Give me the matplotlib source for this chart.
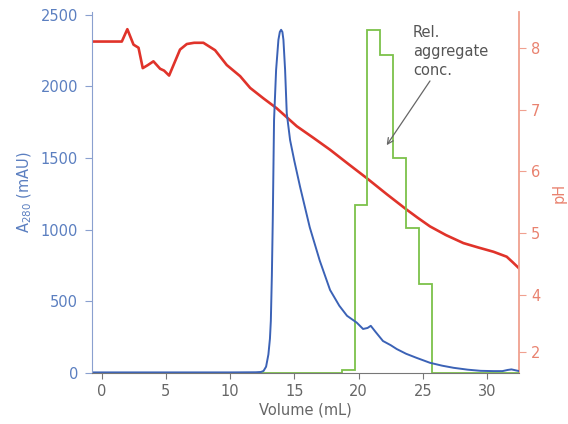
import matplotlib
matplotlib.use("Agg")
import matplotlib.pyplot as plt

# UV trace (A280, mAU) vs elution volume (mL)
vol_uv = [-0.75, 5, 10, 12.0, 12.4, 12.6, 12.8, 12.98, 13.1, 13.17, 13.25, 13.32, 13.42, 13.58,
          13.76, 13.87, 13.97, 14.07, 14.15, 14.28, 14.41, 14.67, 15.0, 15.45, 16.2, 16.98,
          17.78, 18.5, 19.1, 19.86, 20.35, 20.7, 20.95, 21.3, 21.9, 22.5, 22.97, 23.7, 24.5,
          25.56, 26.5, 27.4, 28.5, 29.5, 30.5, 31.2, 31.6, 31.9, 32.5]
a280 = [5, 5, 5, 6, 8, 15, 45, 130, 240, 364, 680, 1064, 1765, 2115,
        2325, 2380, 2395, 2380, 2325, 2115, 1812, 1625, 1480, 1298, 1017, 784,
        580, 470, 400, 352, 308, 315, 330, 290, 224, 195, 168, 135, 107,
        72, 52, 37, 24, 16, 14, 14, 22, 26, 14]

# pH trace
vol_ph = [-0.75, 1.57, 2.0, 2.48, 2.87, 3.2, 3.6, 4.03, 4.55, 4.86, 5.25, 6.1, 6.63, 7.2,
          7.92, 8.83, 9.74, 10.78, 11.56, 12.6, 13.63, 15.19, 16.5, 17.78, 19.2, 20.64,
          22.2, 23.75, 24.6, 25.56, 26.8, 28.16, 29.3, 30.5, 31.53, 32.0, 32.5]
ph = [8.1, 8.1, 8.3, 8.05, 8.0, 7.67, 7.72, 7.78, 7.66, 7.63, 7.55, 7.97, 8.06, 8.08,
      8.08, 7.96, 7.72, 7.54, 7.35, 7.18, 7.02, 6.73, 6.54, 6.35, 6.12, 5.89,
      5.63, 5.38, 5.25, 5.11, 4.97, 4.84, 4.77, 4.70, 4.62, 4.53, 4.43]

# relative aggregate concentration, per fraction
frac_edges = [-0.75, 18.69, 19.73, 20.69, 21.67, 22.7, 23.67, 24.73, 25.7, 32.5]
aggregate = [0, 20, 1170, 2395, 2220, 1500, 1015, 623, 0]

ph_ticks = [3.08, 4, 5, 6, 7, 8]
ph_ticklabels = ["2", "4", "5", "6", "7", "8"]

blue = "#3b62b6"
red = "#e0332a"
green = "#7cc14a"
blue_txt = "#5b7fc0"
red_txt = "#e9826f"

plt.rcParams["font.family"] = "DejaVu Sans"
plt.rcParams["font.size"] = 10.5

fig = plt.figure(figsize=(5.68, 4.24), dpi=100)
ax = fig.add_axes([0.162, 0.12, 0.752, 0.852])
ax2 = ax.twinx()

ax2.plot(vol_ph, ph, color=red, lw=1.9)
ax.stairs(aggregate, frac_edges, color=green, lw=1.3)
ax.plot(vol_uv, a280, color=blue, lw=1.4)

ax.set_zorder(ax2.get_zorder() + 1)
ax.patch.set_visible(False)

ax.set_xlim(-0.75, 32.5)
ax.set_ylim(0, 2520)
ax2.set_ylim(2.737, 8.58)

ax.set_xticks([0, 5, 10, 15, 20, 25, 30])
ax.set_yticks([0, 500, 1000, 1500, 2000, 2500])
ax2.set_yticks(ph_ticks)
ax2.set_yticklabels(ph_ticklabels)

for a in (ax, ax2):
    a.spines["top"].set_visible(False)
ax.spines["left"].set_color("#8aa0cf")
ax.spines["bottom"].set_color("#777777")
ax.spines["right"].set_visible(False)
ax2.spines["left"].set_visible(False)
ax2.spines["bottom"].set_visible(False)
ax2.spines["right"].set_color("#f0a08f")
ax2.spines["right"].set_linewidth(1.3)

ax.tick_params(axis="y", colors="#8aa0cf", labelcolor=blue_txt, length=5, pad=5)
ax.tick_params(axis="x", colors="#777777", labelcolor="#666666", length=4)
ax2.tick_params(axis="y", colors="#f0a08f", labelcolor=red_txt, length=5)

ax.set_xlabel("Volume (mL)", color="#666666", labelpad=3)
ax.set_ylabel("A$_{280}$ (mAU)", color=blue_txt, labelpad=5)
ax2.set_ylabel("pH", color=red_txt, labelpad=8)

ax.annotate("Rel.\naggregate\nconc.", xy=(22.19, 1590), xytext=(24.24, 2430),
            ha="left", va="top", color="#555555", linespacing=1.35,
            arrowprops=dict(arrowstyle="->", color="#666666", lw=0.9,
                            shrinkA=0, shrinkB=0, relpos=(0.25, 0)))

fig.savefig("out.png", dpi=100, facecolor="white")
